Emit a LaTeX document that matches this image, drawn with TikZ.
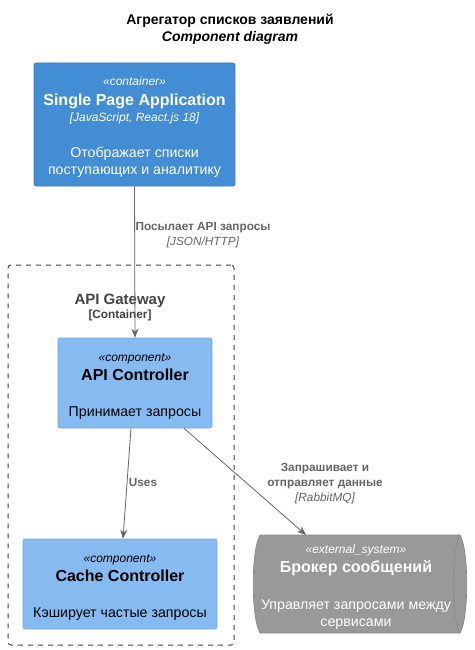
\documentclass[tikz,border=0pt]{standalone}
\usepackage{fontspec}
\setmainfont{Liberation Sans}
\usetikzlibrary{arrows.meta,calc}
\definecolor{spablue}{HTML}{438DD5}
\definecolor{spaborder}{HTML}{3C7FC0}
\definecolor{compblue}{HTML}{85BBF0}
\definecolor{compborder}{HTML}{78A8D8}
\definecolor{extgray}{HTML}{999999}
\definecolor{extborder}{HTML}{8A8A8A}
\definecolor{linegray}{HTML}{666666}
\definecolor{bndgray}{HTML}{444444}
\tikzset{
  box/.style={draw, rounded corners=2pt, line width=0.6pt, inner sep=0pt},
  txt/.style={inner sep=0pt, anchor=base},
  stereo/.style={txt, font=\fontsize{12}{14}\selectfont\itshape},
  ename/.style={txt, font=\fontsize{16}{19}\selectfont\bfseries},
  desc/.style={txt, font=\fontsize{14.2}{17}\selectfont},
  tech/.style={txt, font=\fontsize{12}{14}\selectfont\itshape},
  rel/.style={draw=linegray, line width=0.8pt, -{Stealth[length=9pt,width=7pt]}, color=linegray},
  rellabel/.style={txt, font=\fontsize{11.8}{14}\selectfont\bfseries, text=linegray},
  reltech/.style={txt, font=\fontsize{11.8}{14}\selectfont\itshape, text=linegray},
}
\begin{document}
\begin{tikzpicture}[x=1pt,y=-1pt]
\useasboundingbox (0,0) rectangle (474,650);
\fill[white] (0,0) rectangle (474,650);

% title
\node[txt, font=\fontsize{14}{16}\selectfont\bfseries] (t1) at (230,24.5) {Агрегатор списков заявлений};
\node[txt, font=\fontsize{14}{16}\selectfont\bfseries\itshape] (t2) at (230,41.5) {Component diagram};

% boundary
\node[draw=bndgray, dash pattern=on 5pt off 5pt, rounded corners=3pt, line width=1pt,
      minimum width=226pt, minimum height=380pt, inner sep=0pt] (bnd) at (121,455) {};
\node[txt, font=\fontsize{15}{18}\selectfont\bfseries, text=bndgray] (bndname) at (120,304) {API Gateway};
\node[txt, font=\fontsize{11.8}{14}\selectfont\bfseries, text=bndgray] (bndtype) at (120,318.5) {[Container]};

% SPA
\node[box, draw=spaborder, fill=spablue, minimum width=201pt, minimum height=123pt] (spa) at (134.5,124.5) {};
\node[stereo, text=white] (spa1) at (134.5,86) {«container»};
\node[ename, text=white] (spa2) at (134.5,105.5) {Single Page Application};
\node[tech, text=white] (spa3) at (134.5,121.5) {[JavaScript, React.js 18]};
\node[desc, text=white] (spa4) at (134.5,157.5) {Отображает списки};
\node[desc, text=white] (spa5) at (134.5,174) {поступающих и аналитику};

% API Controller
\node[box, draw=compborder, fill=compblue, minimum width=154pt, minimum height=90pt] (api) at (135,383) {};
\node[stereo] (api1) at (135,361) {«component»};
\node[ename] (api2) at (135,380.5) {API Controller};
\node[desc] (api3) at (135,416.5) {Принимает запросы};

% Cache Controller
\node[box, draw=compborder, fill=compblue, minimum width=194pt, minimum height=90pt] (cache) at (120,584) {};
\node[stereo] (cache1) at (120,562) {«component»};
\node[ename] (cache2) at (120,581.5) {Cache Controller};
\node[desc] (cache3) at (120,617.5) {Кэширует частые запросы};

% Broker (queue shape)
\coordinate (broker) at (360,584);
\coordinate (brokern) at (360,535);
\fill[extgray] (260,535) -- (460,535) .. controls (469,550) and (469,618) .. (460,633) -- (260,633)
   .. controls (251,618) and (251,550) .. (260,535) -- cycle;
\draw[extborder, line width=0.7pt] (260,535) -- (460,535) .. controls (469,550) and (469,618) .. (460,633) -- (260,633)
   .. controls (251,618) and (251,550) .. (260,535) -- cycle;
\draw[extborder, line width=0.7pt] (460,535) .. controls (451,550) and (451,618) .. (460,633);
\node[stereo, text=white] (br1) at (356,553) {«external\_system»};
\node[ename, text=white] (br2) at (356,572) {Брокер сообщений};
\node[desc, text=white] (br3) at (356,609.5) {Управляет запросами между};
\node[desc, text=white] (br4) at (356,626) {сервисами};

% relations
\draw[rel] (spa.south) -- (api.north);
\node[rellabel] (l1a) at (203,230) {Посылает API запросы};
\node[reltech] (l1b) at (203,245) {[JSON/HTTP]};

\draw[rel] ($(api.south)+(-4,0)$) -- ($(cache.north)+(3,0)$);
\node[rellabel] (l2a) at (143,486) {Uses};

\draw[rel] ($(api.south)+(49,0)$) -- ($(brokern)+(-54,0)$);
\node[rellabel] (l3a) at (325,471) {Запрашивает и};
\node[rellabel] (l3b) at (325,486) {отправляет данные};
\node[reltech] (l3c) at (325,501) {[RabbitMQ]};
\end{tikzpicture}
\end{document}
